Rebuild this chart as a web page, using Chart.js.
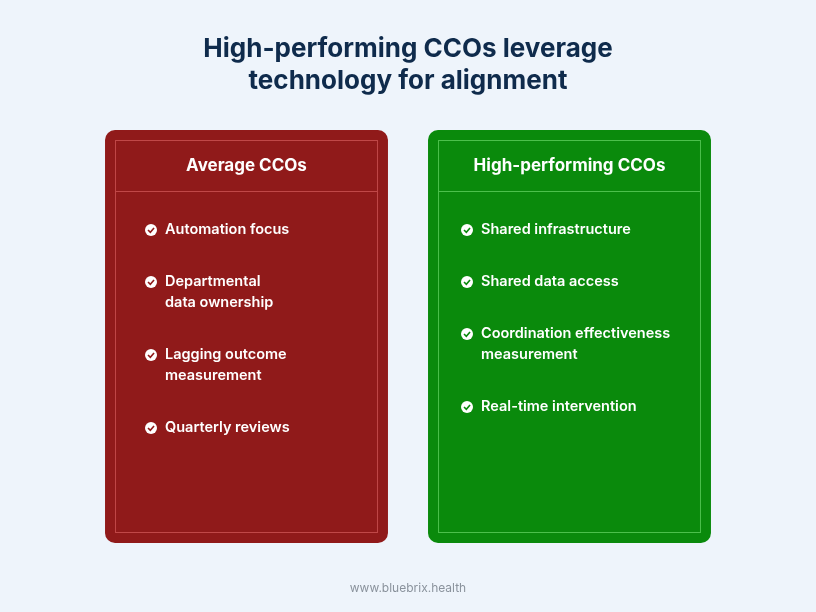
<!DOCTYPE html>
<html><head><meta charset="utf-8">
<script src="https://cdn.jsdelivr.net/npm/chart.js@4"></script>
<style>
html,body{margin:0;padding:0;background:#eef4fb;}
#wrap{width:816px;height:612px;position:relative;}
</style></head>
<body><div id="wrap"><canvas id="c" width="816" height="612"></canvas></div>
<script>
const title = ['High-performing CCOs leverage', 'technology for alignment'];
const groups = ['Average CCOs', 'High-performing CCOs'];
const cardSpan = [[130, 543], [130, 543]];
const cardColors = ['#901a1a', '#0a8a0c'];
const innerBorders = ['#c04848', '#4cc04c'];
const averageItems = [['Automation focus'], ['Departmental', 'data ownership'], ['Lagging outcome', 'measurement'], ['Quarterly reviews']];
const highItems = [['Shared infrastructure'], ['Shared data access'], ['Coordination effectiveness', 'measurement'], ['Real-time intervention']];
const footer = 'www.bluebrix.health';

const font = 'Inter, "Open Sans", sans-serif';
const iconOffset = [46, 39];

const textPlugin = {
  id: 'cardText',
  afterDatasetsDraw(chart) {
    const ctx = chart.ctx;
    const meta = chart.getDatasetMeta(0);
    ctx.save();
    ctx.fillStyle = '#0f2b4c';
    ctx.font = 'bold 26px ' + font;
    ctx.textAlign = 'center';
    ctx.textBaseline = 'middle';
    title.forEach((t, i) => ctx.fillText(t, 408, 49 + i * 32));
    ctx.fillStyle = '#8a929c';
    ctx.font = '12px ' + font;
    ctx.fillText(footer, 408, 588);

    [averageItems, highItems].forEach((items, gi) => {
      const bar = meta.data[gi];
      const left = bar.x - bar.width / 2, right = bar.x + bar.width / 2;
      const top = Math.min(bar.y, bar.base), bottom = Math.max(bar.y, bar.base);
      const ix = left + iconOffset[gi];
      ctx.strokeStyle = innerBorders[gi];
      ctx.lineWidth = 1;
      ctx.strokeRect(left + 10.5, top + 10.5, right - left - 21, bottom - top - 21);
      ctx.beginPath();
      ctx.moveTo(left + 10.5, top + 61.5);
      ctx.lineTo(right - 10.5, top + 61.5);
      ctx.stroke();
      ctx.fillStyle = '#ffffff';
      ctx.textAlign = 'center';
      ctx.font = 'bold 17px ' + font;
      ctx.fillText(groups[gi], bar.x, top + 36);
      ctx.textAlign = 'left';
      ctx.font = '600 14.5px ' + font;
      let y = top + 100;
      items.forEach(lines => {
        ctx.fillStyle = '#ffffff';
        ctx.beginPath();
        ctx.arc(ix, y, 6, 0, Math.PI * 2);
        ctx.fill();
        ctx.strokeStyle = cardColors[gi];
        ctx.lineWidth = 1.6;
        ctx.beginPath();
        ctx.moveTo(ix - 3, y);
        ctx.lineTo(ix - 0.7, y + 2.3);
        ctx.lineTo(ix + 3, y - 2);
        ctx.stroke();
        ctx.fillStyle = '#ffffff';
        lines.forEach((l, li) => ctx.fillText(l, ix + 14, y + li * 21));
        y += 31 + lines.length * 21;
      });
    });
    ctx.restore();
  }
};

new Chart(document.getElementById('c'), {
  type: 'bar',
  data: {
    labels: groups,
    datasets: [{ data: cardSpan, backgroundColor: cardColors, borderRadius: 10, borderSkipped: false,
      categoryPercentage: 1, barPercentage: 0.876 }]
  },
  options: {
    responsive: false, animation: false,
    layout: { padding: { left: 85, right: 85, top: 0, bottom: 0 } },
    plugins: { legend: { display: false }, tooltip: { enabled: false } },
    scales: {
      x: { display: false },
      y: { display: false, min: 0, max: 612, reverse: true }
    }
  },
  plugins: [textPlugin]
});
</script></body></html>
